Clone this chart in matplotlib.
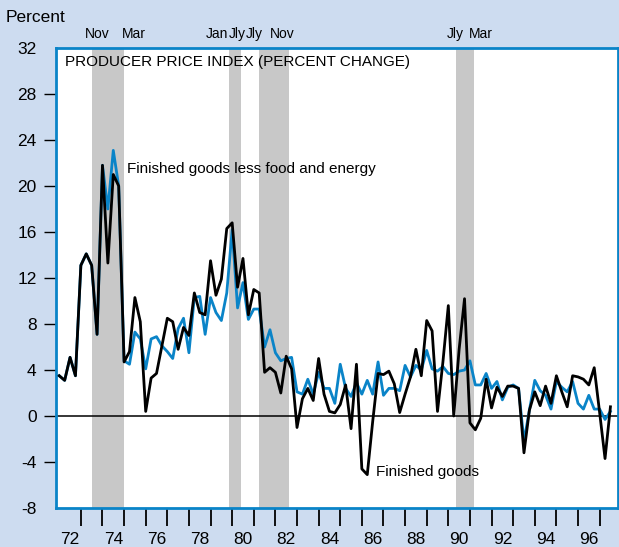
import matplotlib
matplotlib.use("Agg")
from matplotlib import pyplot as plt
import numpy as np

# quarterly PPI percent changes, 1972 Q1 onward
finished = [3.5, 3.1, 5.1, 3.5, 13.1, 14.1, 13.1, 7.1, 21.8, 13.3,
            21.0, 20.0, 4.7, 5.6, 10.3, 8.2, 0.4, 3.3, 3.7, 6.1,
            8.5, 8.2, 5.8, 7.7, 7.0, 10.7, 9.0, 8.8, 13.5, 10.5,
            11.9, 16.3, 16.8, 11.2, 13.7, 8.8, 11.0, 10.7, 3.8, 4.2,
            3.8, 2.0, 5.2, 4.1, -1.0, 1.5, 2.4, 1.35, 5.0, 1.9,
            0.4, 0.27, 1.0, 2.7, -1.1, 4.5, -4.6, -5.1, -0.5, 3.7,
            3.6, 3.9, 2.8, 0.3, 1.9, 3.4, 5.8, 3.5, 8.3, 7.4,
            0.4, 4.7, 9.6, 0.0, 5.8, 10.2, -0.6, -1.2, -0.2, 3.2,
            0.7, 2.5, 1.7, 2.6, 2.6, 2.4, -3.2, 0.5, 2.1, 0.9,
            2.6, 1.1, 3.5, 2.1, 0.8, 3.5, 3.4, 3.2, 2.7, 4.2,
            0.3, -3.7, 0.8]

core = [3.5, 3.1, 5.1, 3.5, 13.1, 14.1, 13.1, 7.1, 21.8, 18.0,
        23.1, 20.0, 4.8, 4.5, 7.3, 6.7, 4.1, 6.7, 6.9, 6.1,
        5.6, 5.0, 7.6, 8.5, 5.5, 10.3, 10.4, 7.1, 10.3, 9.0,
        8.3, 10.7, 16.2, 9.4, 11.6, 8.4, 9.3, 9.3, 6.0, 7.5,
        5.5, 4.8, 5.0, 5.1, 2.1, 1.9, 3.2, 1.9, 3.8, 2.4,
        2.4, 1.1, 4.5, 2.4, 1.7, 2.9, 1.9, 3.1, 1.9, 4.7,
        1.8, 2.4, 2.4, 2.2, 4.4, 3.4, 4.4, 4.0, 5.7, 4.1,
        3.9, 4.3, 3.7, 3.6, 3.9, 4.0, 4.8, 2.7, 2.7, 3.7,
        2.4, 3.0, 1.4, 2.5, 2.7, 2.4, -2.2, 0.5, 3.1, 2.2,
        1.8, 0.6, 3.0, 2.5, 2.1, 3.0, 1.1, 0.6, 1.8, 0.6,
        0.6, -0.3, 0.4]

recessions = [(1973.53, 1975.01), (1979.85, 1980.39),
              (1981.24, 1982.63), (1990.35, 1991.18)]
month_labels = ["Nov", "Mar", "Jan", "Jly", "Jly", "Nov", "Jly", "Mar"]
month_pos = [1973.78, 1975.45, 1979.83, 1980.22, 1980.62, 1982.3, 1990.72, 1990.95]
month_ha = ["center", "center", "right", "center", "left", "center", "right", "left"]

year_labels = [str(y) for y in range(72, 97, 2)]

bg = "#cddcf0"
blue = "#0a84c8"
plt.rcParams["font.family"] = ["Liberation Sans", "DejaVu Sans"]

x = 1972 + np.arange(len(finished)) / 4.0

fig = plt.figure(figsize=(6.19, 5.47), dpi=100, facecolor=bg)
ax = fig.add_axes([56 / 619, 1 - 508 / 547, 562 / 619, 460 / 547])

for a, b in recessions:
    ax.axvspan(a, b, color="#c8c8c8", lw=0, zorder=1)
ax.axhline(0, color="black", lw=1.1, zorder=2)
ax.plot(x, core, color=blue, lw=2, zorder=3)
ax.plot(x, finished, color="black", lw=2, zorder=4)

ax.set_xlim(1971.85, 1997.85)
ax.set_ylim(-8, 32)

for s in ax.spines.values():
    s.set_color(blue)
    s.set_linewidth(2)

# y axis: tick marks for interior values, labels for all
ax.set_yticks(range(-4, 29, 4))
ax.set_yticks([-8, 32], minor=True)
ax.set_yticklabels([str(v) for v in range(-4, 29, 4)])
ax.set_yticklabels(["-8", "32"], minor=True)
ax.tick_params(axis="y", which="major", direction="out", length=9, width=1,
               color="black", pad=5, labelsize=12.5)
ax.tick_params(axis="y", which="minor", length=0, pad=14, labelsize=12.5)

# x axis: tick marks at year boundaries, labels mid-year
ax.set_xticks(range(1973, 1998))
ax.set_xticklabels([""] * 25)
ax.set_xticks([1972.5 + 2 * k for k in range(len(year_labels))], minor=True)
ax.set_xticklabels(year_labels, minor=True)
ax.tick_params(axis="x", which="major", direction="out", length=13, width=1.3,
               color="black")
ax.tick_params(axis="x", which="minor", length=0, pad=17, labelsize=12.5)

ax.text(0.016, 0.97, "PRODUCER PRICE INDEX (PERCENT CHANGE)", transform=ax.transAxes,
        fontsize=11, va="center", ha="left")
ax.text(1975.15, 21.45, "Finished goods less food and energy", fontsize=11,
        va="center", ha="left")
ax.text(1986.65, -4.85, "Finished goods", fontsize=11, va="center", ha="left")

fig.text(6 / 619, 1 - 17 / 547, "Percent", fontsize=12.5,
         va="center", ha="left")
for lab, pos, ha in zip(month_labels, month_pos, month_ha):
    ax.text(pos, 1.0 + 14 / 460, lab, transform=ax.get_xaxis_transform(),
            fontsize=10, ha=ha, va="center")

fig.savefig("out.png", dpi=100, facecolor=bg)
